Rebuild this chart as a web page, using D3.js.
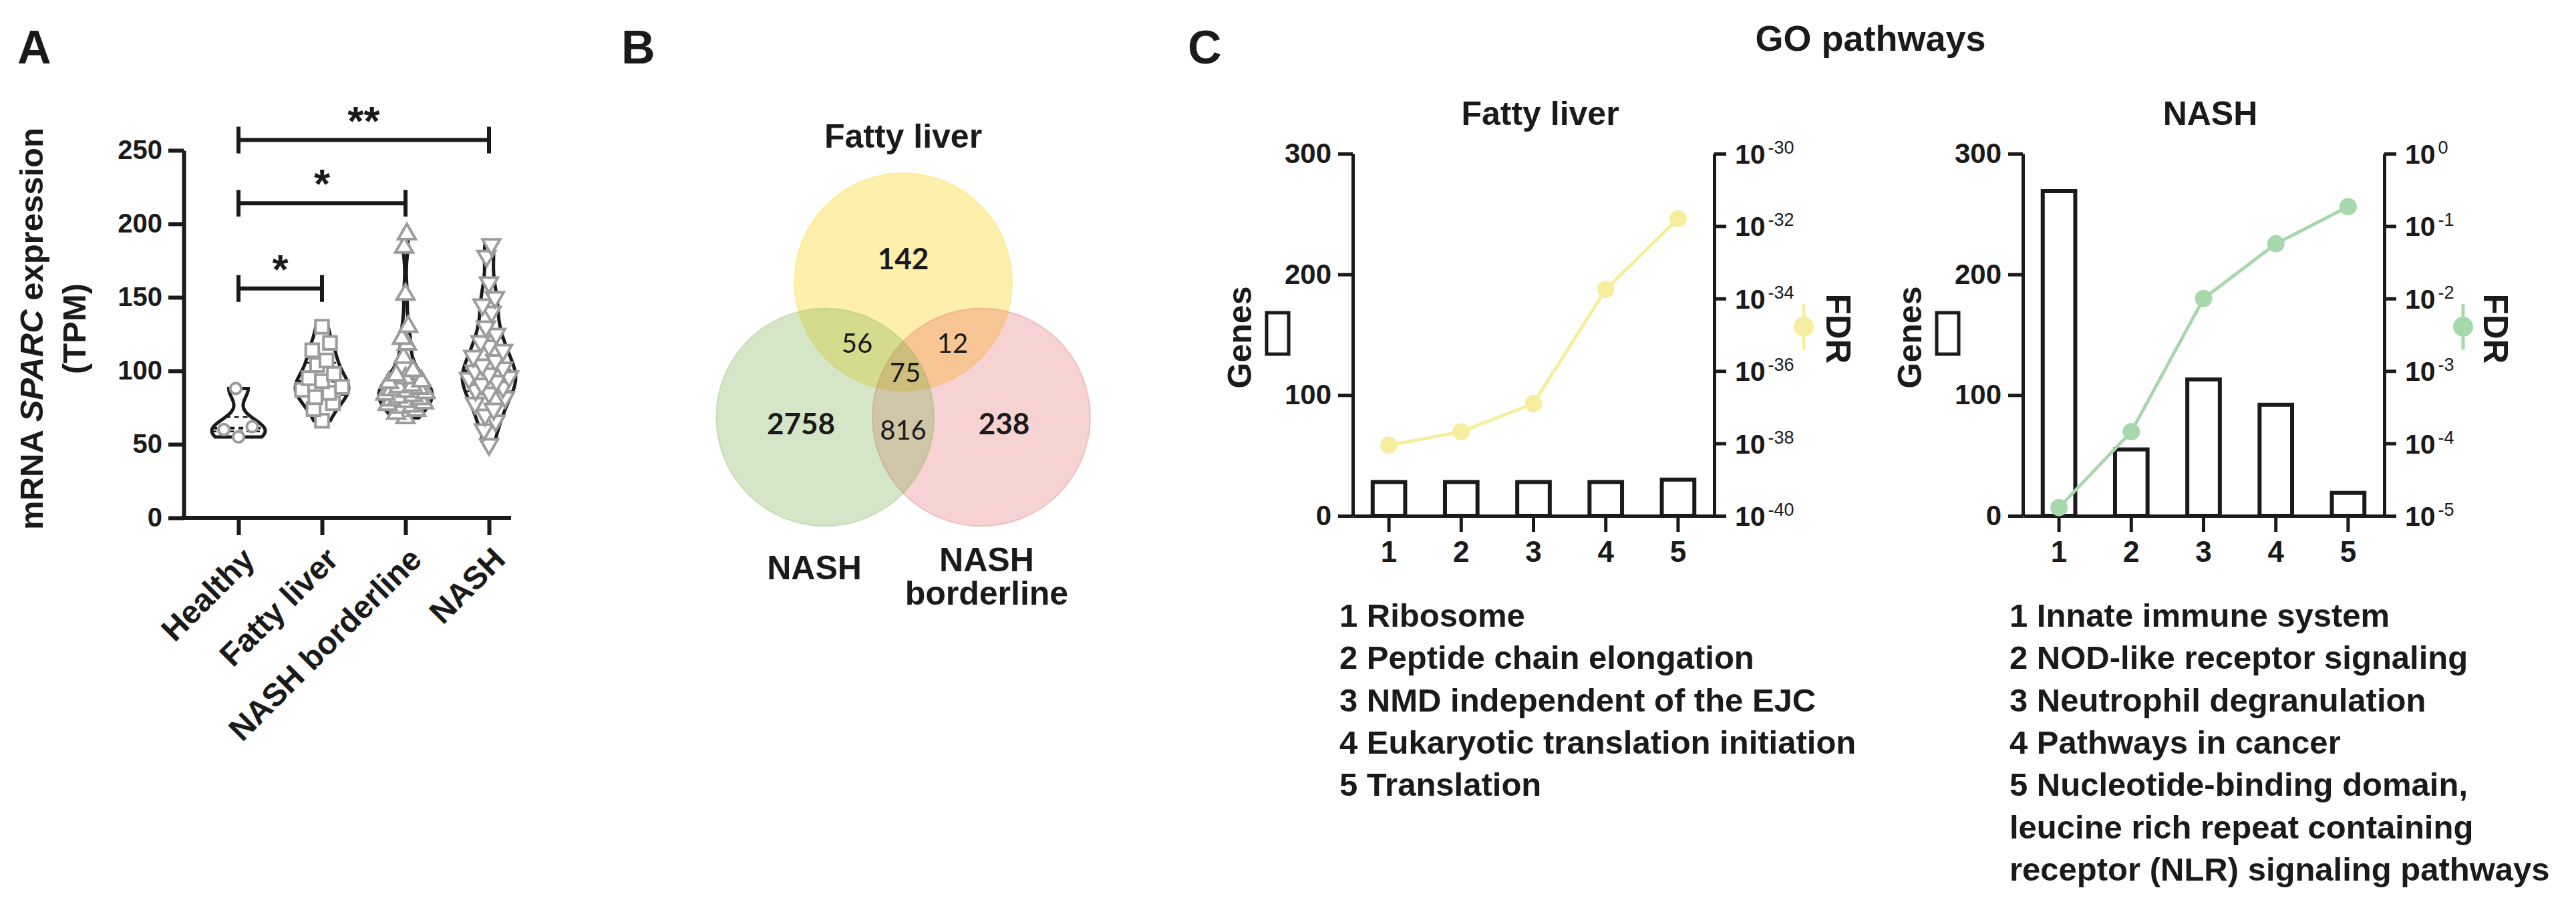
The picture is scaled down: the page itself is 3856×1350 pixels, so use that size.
<!DOCTYPE html>
<html>
<head>
<meta charset="utf-8">
<script src="https://cdn.jsdelivr.net/npm/d3@7"></script>
<style>
  body { margin: 0; background: #fff; }
  svg text { font-family: "Liberation Sans", Arial, sans-serif; font-weight: bold; fill: #1a1a1a; }
</style>
</head>
<body>
<svg id="fig" width="3856" height="1350"></svg>
<script>
// ---------- panel A : SPARC expression ----------
const groups = ["Healthy", "Fatty liver", "NASH borderline", "NASH"];
const healthyTPM = [88, 62, 60, 55];
const fattyTPM = [130, 119, 114, 107, 104, 98, 95, 93, 89, 87, 85, 82, 78, 74, 66];
const borderlineTPM = [193, 184, 152, 130, 122, 118, 109, 100, 97, 95, 93, 92, 90, 89, 88, 87,
  86, 85, 84, 83, 82, 81, 80, 79, 78, 77, 76, 75, 73, 71, 68];
const nashTPM = [186, 178, 160, 150, 145, 140, 130, 125, 120, 117, 114, 110, 107, 104, 102, 100,
  98, 96, 95, 93, 91, 89, 87, 85, 82, 78, 74, 70, 66, 60, 50];
const yTicksA = [0, 50, 100, 150, 200, 250];
const sigPairs = [[0, 1], [0, 2], [0, 3]];
const sigHeights = [156, 214, 257];
const sigLabels = ["*", "*", "**"];

// ---------- panel B : Venn ----------
const vennNames = ["Fatty liver", "NASH", "NASH borderline"];
const vennOnly = [142, 2758, 238];
const vennPairs = [56, 12, 816]; // FL&NASH, FL&borderline, NASH&borderline
const vennAll = 75;

// ---------- panel C : GO pathways ----------
const pathwayIdx = ["1", "2", "3", "4", "5"];
const fattyGenes = [28, 28, 28, 28, 30];
const fattyFDR = [8.9e-39, 2.1e-38, 1.26e-37, 1.8e-34, 1.6e-32];
const nashGenes = [269, 55, 113, 92, 19];
const nashFDR = [1.3e-5, 1.45e-4, 1.0e-2, 5.7e-2, 1.86e-1];
const fattyFdrTicks = [1e-40, 1e-38, 1e-36, 1e-34, 1e-32, 1e-30];
const nashFdrTicks = [1e-5, 1e-4, 1e-3, 1e-2, 1e-1, 1];
const fattyTerms = [["1 Ribosome"], ["2 Peptide chain elongation"], ["3 NMD independent of the EJC"],
  ["4 Eukaryotic translation initiation"], ["5 Translation"]];
const nashTerms = [["1 Innate immune system"], ["2 NOD-like receptor signaling"], ["3 Neutrophil degranulation"],
  ["4 Pathways in cancer"], ["5 Nucleotide-binding domain,", "leucine rich repeat containing", "receptor (NLR) signaling pathways"]];

const svg = d3.select("#fig");
const ink = "#1a1a1a";

// panel letters
[["A", 26], ["B", 930], ["C", 1778]].forEach(([t, x]) => {
  svg.append("text").attr("x", x).attr("y", 95).style("font-size", "70px").text(t);
});

// ================= Panel A =================
const yA = d3.scaleLinear().domain([0, 250]).range([775, 225]);
const xA = d3.scalePoint().domain(groups).range([357, 732]);
const gA = svg.append("g");

const yAxisA = gA.append("g").attr("transform", "translate(275,0)")
  .call(d3.axisLeft(yA).tickValues(yTicksA).tickSize(23).tickSizeOuter(0).tickPadding(9));
yAxisA.select(".domain").attr("stroke", ink).attr("stroke-width", 6);
yAxisA.selectAll(".tick line").attr("stroke", ink).attr("stroke-width", 6);
yAxisA.selectAll("text").style("font-size", "40px").attr("fill", ink);

gA.append("line").attr("x1", 272).attr("x2", 765).attr("y1", yA(0)).attr("y2", yA(0))
  .attr("stroke", ink).attr("stroke-width", 6);
const xAxisA = gA.append("g").attr("transform", `translate(0,${yA(0)})`)
  .call(d3.axisBottom(xA).tickSize(26).tickFormat(""));
xAxisA.select(".domain").remove();
xAxisA.selectAll(".tick line").attr("stroke", ink).attr("stroke-width", 6);

gA.selectAll(".xlab").data(groups).join("text")
  .attr("transform", d => `translate(${xA(d) + 27},840) rotate(-45)`)
  .attr("text-anchor", "end").style("font-size", "48px").text(d => d);

// y title
const yTitle = gA.append("text").attr("transform", "translate(64,492) rotate(-90)")
  .attr("text-anchor", "middle").style("font-size", "49px");
yTitle.append("tspan").text("mRNA ");
yTitle.append("tspan").style("font-style", "italic").text("SPARC");
yTitle.append("tspan").text(" expression");
gA.append("text").attr("transform", "translate(128,492) rotate(-90)")
  .attr("text-anchor", "middle").style("font-size", "49px").text("(TPM)");

// violins
const groupData = [healthyTPM, fattyTPM, borderlineTPM, nashTPM];
const symbols = [d3.symbolCircle, d3.symbolSquare, d3.symbolTriangle, d3.symbolTriangle];
const symSizes = [210, 380, 300, 300];
const halfMax = 40;

groupData.forEach((vals, gi) => {
  const cx = xA(groups[gi]);
  const n = vals.length;
  const sd = d3.deviation(vals);
  const bw = 0.6 * 1.06 * sd * Math.pow(n, -0.2);
  const dens = v => d3.mean(vals, x => Math.exp(-0.5 * ((v - x) / bw) ** 2));
  const lo = d3.min(vals), hi = d3.max(vals);
  const steps = d3.range(0, 61).map(i => lo + (hi - lo) * i / 60);
  const dmax = d3.max(steps, dens);
  const w = v => halfMax * dens(v) / dmax;
  const area = d3.area().curve(d3.curveBasis)
    .y(d => yA(d)).x0(d => cx - w(d)).x1(d => cx + w(d));
  gA.append("path").datum(steps).attr("d", area)
    .attr("fill", "none").attr("stroke", ink).attr("stroke-width", 5);

  // median + quartiles
  const sorted = vals.slice().sort(d3.ascending);
  [[0.5, 4], [0.25, 2.5], [0.75, 2.5]].forEach(([q, sw]) => {
    const v = d3.quantileSorted(sorted, q);
    gA.append("line").attr("x1", cx - w(v)).attr("x2", cx + w(v)).attr("y1", yA(v)).attr("y2", yA(v))
      .attr("stroke", ink).attr("stroke-width", sw).attr("stroke-dasharray", "7 6");
  });

  const pattern = [0, -0.55, 0.55, -0.28, 0.28, -0.75, 0.75];
  const sym = d3.symbol().type(symbols[gi]).size(symSizes[gi]);
  sorted.forEach((v, i) => {
    const dx = pattern[i % pattern.length] * w(v);
    gA.append("path").attr("d", sym())
      .attr("transform", `translate(${cx + dx},${yA(v)})${gi === 3 ? " rotate(180)" : ""}`)
      .attr("fill", "#fff").attr("stroke", "#9c9c9c").attr("stroke-width", 4);
  });
});

// significance brackets
sigPairs.forEach(([a, b], i) => {
  const x1 = xA(groups[a]), x2 = xA(groups[b]), y = yA(sigHeights[i]);
  const g = gA.append("g").attr("stroke", ink).attr("stroke-width", 6);
  g.append("line").attr("x1", x1).attr("x2", x2).attr("y1", y).attr("y2", y);
  g.append("line").attr("x1", x1).attr("x2", x1).attr("y1", y - 20).attr("y2", y + 20);
  g.append("line").attr("x1", x2).attr("x2", x2).attr("y1", y - 20).attr("y2", y + 20);
  gA.append("text").attr("x", (x1 + x2) / 2).attr("y", y - 8).attr("text-anchor", "middle")
    .style("font-size", "62px").text(sigLabels[i]);
});

// ================= Panel B =================
const vennCx = 1352, vennCy = 557, vennR = 163, vennD = 135;
const vennAngles = [-90, 150, 30];
const vennFill = ["#FFCC00", "#70AD47", "#E04A4A"];
const vennOpacity = [0.32, 0.3, 0.25];
const vc = vennAngles.map(a => [vennCx + vennD * Math.cos(a * Math.PI / 180), vennCy + vennD * Math.sin(a * Math.PI / 180)]);
[0, 2, 1].forEach(i => {
  svg.append("circle").attr("cx", vc[i][0]).attr("cy", vc[i][1]).attr("r", vennR)
    .attr("fill", vennFill[i]).attr("fill-opacity", vennOpacity[i])
    .attr("stroke", vennFill[i]).attr("stroke-opacity", 0.25).attr("stroke-width", 2);
});
const vennLabels = [
  { v: vennOnly[0], dx: 0, dy: -154, bold: true },
  { v: vennOnly[1], dx: -153, dy: 93, bold: true },
  { v: vennOnly[2], dx: 151, dy: 93, bold: true },
  { v: vennPairs[0], dx: -69, dy: -29 },
  { v: vennPairs[1], dx: 74, dy: -29 },
  { v: vennPairs[2], dx: 0, dy: 101 },
  { v: vennAll, dx: 3, dy: 15 }
];
svg.selectAll(".vnum").data(vennLabels).join("text")
  .attr("x", d => vennCx + d.dx).attr("y", d => vennCy + d.dy).attr("text-anchor", "middle")
  .style("font-family", "Lato, 'Open Sans', sans-serif")
  .style("font-weight", d => d.bold ? "bold" : "normal")
  .style("font-size", d => d.bold ? "44px" : "40px").text(d => d.v);

svg.append("text").attr("x", vc[0][0]).attr("y", 221).attr("text-anchor", "middle")
  .style("font-size", "50px").text(vennNames[0]);
svg.append("text").attr("x", vc[1][0] - 16).attr("y", 867).attr("text-anchor", "middle")
  .style("font-size", "50px").text(vennNames[1]);
const bl = svg.append("text").attr("text-anchor", "middle").style("font-size", "50px");
vennNames[2].split(" ").forEach((w, i) => {
  bl.append("tspan").attr("x", vc[2][0] + 8).attr("y", 855 + i * 50).text(w);
});

// ================= Panel C =================
svg.append("text").attr("x", 2800).attr("y", 76).attr("text-anchor", "middle")
  .style("font-size", "54px").text("GO pathways");

function goChart(o) {
  const left = o.left, right = o.left + 541;
  const g = svg.append("g");
  const x = d3.scaleBand().domain(pathwayIdx).range([left, right]).paddingInner(0.55).paddingOuter(0.275);
  const yG = d3.scaleLinear().domain([0, 300]).range([772, 230]);
  const yF = d3.scaleLog().domain(o.fdrDomain).range([772, 230]);

  g.append("text").attr("x", (left + right) / 2 + 10).attr("y", 187).attr("text-anchor", "middle")
    .style("font-size", "50px").text(o.title);

  g.selectAll(".bar").data(o.genes).join("rect")
    .attr("x", (d, i) => x(pathwayIdx[i])).attr("y", d => yG(d))
    .attr("width", x.bandwidth()).attr("height", d => yG(0) - yG(d))
    .attr("fill", "#fff").attr("stroke", ink).attr("stroke-width", 6);

  const la = g.append("g").attr("transform", `translate(${left},0)`)
    .call(d3.axisLeft(yG).tickValues([0, 100, 200, 300]).tickSize(22).tickSizeOuter(0).tickPadding(10));
  const ra = g.append("g").attr("transform", `translate(${right},0)`)
    .call(d3.axisRight(yF).tickValues(o.fdrTicks).tickSize(18).tickSizeOuter(0).tickFormat(""));
  const ba = g.append("g").attr("transform", `translate(0,${yG(0)})`)
    .call(d3.axisBottom(x).tickSize(24).tickSizeOuter(0).tickPadding(14));
  [la, ra, ba].forEach(a => {
    a.select(".domain").attr("stroke", ink).attr("stroke-width", 5);
    a.selectAll(".tick line").attr("stroke", ink).attr("stroke-width", 5);
    a.selectAll("text").attr("fill", ink).style("font-size", "42px");
  });
  ba.selectAll("text").style("font-size", "44px");

  o.fdrTicks.forEach(t => {
    const e = Math.round(Math.log10(t));
    const tx = g.append("text").attr("x", right + 31).attr("y", yF(t) + 15).style("font-size", "41px");
    tx.append("tspan").text("10");
    tx.append("tspan").attr("dx", 4).attr("dy", -15).style("font-size", "27px").style("font-weight", "normal")
      .text(e === 0 ? "0" : "-" + Math.abs(e));
  });

  const cxs = pathwayIdx.map(p => x(p) + x.bandwidth() / 2);
  g.append("path").datum(o.fdr)
    .attr("d", d3.line().x((d, i) => cxs[i]).y(d => yF(d)))
    .attr("fill", "none").attr("stroke", o.color).attr("stroke-width", 5);
  g.selectAll(".dot").data(o.fdr).join("circle")
    .attr("cx", (d, i) => cxs[i]).attr("cy", d => yF(d)).attr("r", 13).attr("fill", o.color);

  // legends
  g.append("text").attr("transform", `translate(${left - 152},505) rotate(-90)`)
    .attr("text-anchor", "middle").style("font-size", "50px").text("Genes");
  g.append("rect").attr("x", left - 129).attr("y", 468).attr("width", 33).attr("height", 62)
    .attr("fill", "#fff").attr("stroke", ink).attr("stroke-width", 5);
  const sx = right + o.legDx;
  g.append("line").attr("x1", sx).attr("x2", sx).attr("y1", 455).attr("y2", 523)
    .attr("stroke", o.color).attr("stroke-width", 5);
  g.append("circle").attr("cx", sx).attr("cy", 489).attr("r", 15).attr("fill", o.color);
  g.append("text").attr("transform", `translate(${right + o.legTextDx},492) rotate(90)`)
    .attr("text-anchor", "middle").style("font-size", "51px").text("FDR");

  // pathway list
  let line = 0;
  o.terms.forEach(term => {
    term.forEach(s => {
      g.append("text").attr("x", left - 20).attr("y", 938 + line * 63.3)
        .style("font-size", "49px").text(s);
      line++;
    });
  });
}

goChart({ left: 2025, title: "Fatty liver", genes: fattyGenes, fdr: fattyFDR, fdrDomain: [1e-40, 1e-30],
  fdrTicks: fattyFdrTicks, color: "#F6EE9E", terms: fattyTerms, legDx: 134, legTextDx: 168 });
goChart({ left: 3028, title: "NASH", genes: nashGenes, fdr: nashFDR, fdrDomain: [1e-5, 1],
  fdrTicks: nashFdrTicks, color: "#A7D8AC", terms: nashTerms, legDx: 118, legTextDx: 149 });
</script>
</body>
</html>
